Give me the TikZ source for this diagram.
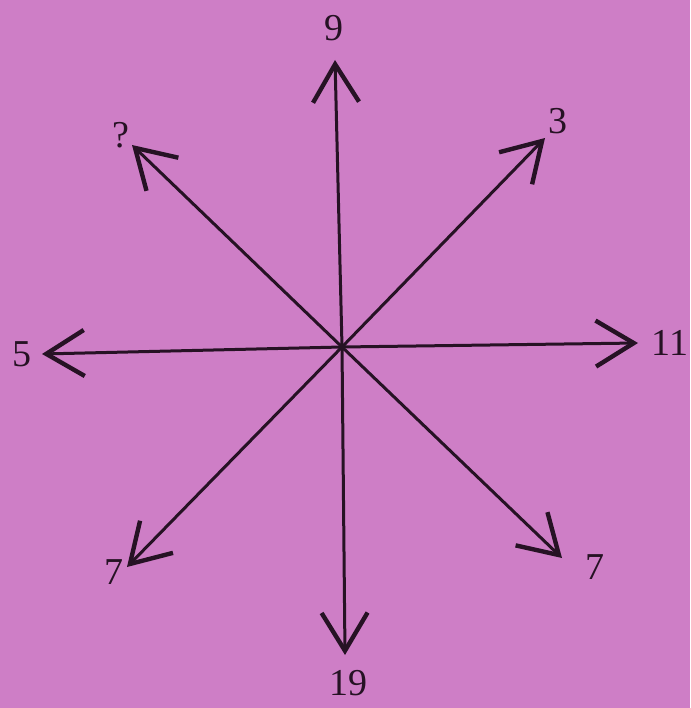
\documentclass[tikz,border=0pt]{standalone}
\usepackage{fontspec}
\setmainfont{Liberation Serif}
\usetikzlibrary{arrows.meta}
\definecolor{bgpink}{RGB}{206,126,198}
\definecolor{ink}{RGB}{38,18,36}
\tikzset{
  ray/.style={draw=ink, line width=3pt, -{Straight Barb[length=38pt,width=46pt,line width=4.4pt]}},
  lbl/.style={text=ink, font=\fontsize{38}{38}\selectfont, inner sep=0pt}
}
\begin{document}
\begin{tikzpicture}[x=1pt,y=-1pt]
\fill[bgpink] (0,0) rectangle (690,708);
\useasboundingbox (0,0) rectangle (690,708);
\coordinate (c) at (342,347);
\coordinate (tn) at (335,60);
\coordinate (tne) at (545,138);
\coordinate (te) at (638,343);
\coordinate (tse) at (562,558);
\coordinate (ts) at (345,655);
\coordinate (tsw) at (127,567);
\coordinate (tw) at (42,354);
\coordinate (tnw) at (132,145);
\foreach \t in {tn,tne,te,tse,ts,tsw,tw,tnw}{\draw[ray] (c) -- (\t);}
\node[lbl] (l9) at (334,28) {9};
\node[lbl] (l3) at (558,121) {3};
\node[lbl] (l11) at (670,343) {11};
\node[lbl] (l7a) at (595,567) {7};
\node[lbl] (l19) at (348,683) {19};
\node[lbl] (l7b) at (114,572) {7};
\node[lbl] (l5) at (22,354) {5};
\node[lbl] (lq) at (121,135) {?};
\end{tikzpicture}
\end{document}
